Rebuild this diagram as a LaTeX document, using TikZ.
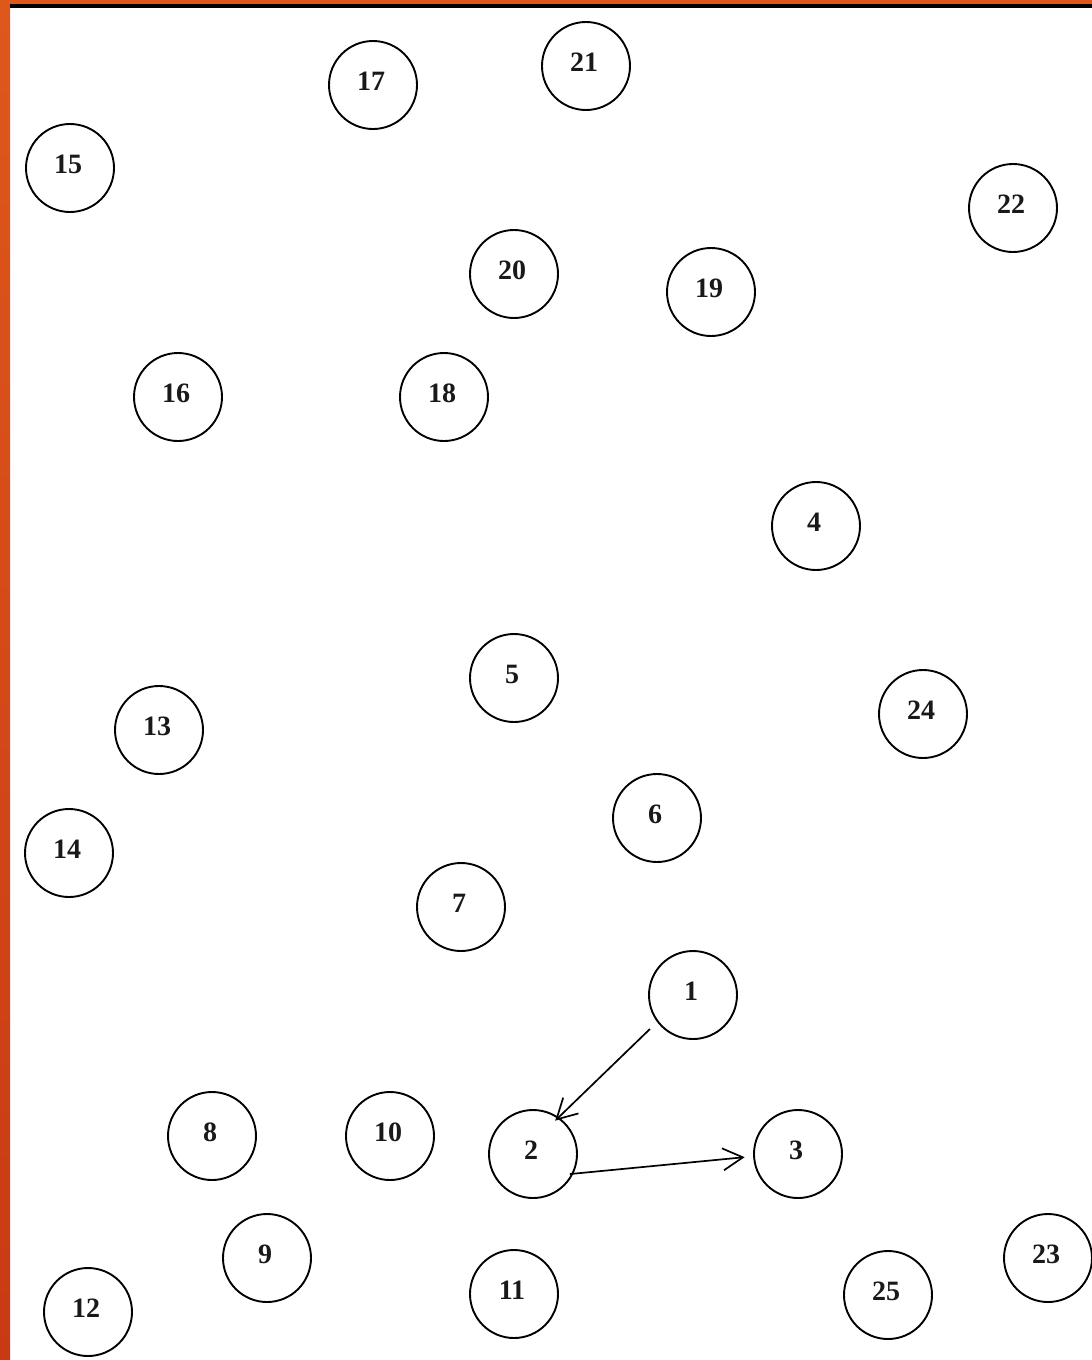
\documentclass[tikz,border=0pt]{standalone}
\usepackage{fontspec}
\setmainfont{Liberation Serif}
\usetikzlibrary{arrows.meta}
\definecolor{orangetop}{RGB}{222,88,28}
\definecolor{orangebot}{RGB}{200,58,20}
\begin{document}
\begin{tikzpicture}[x=1pt,y=-1pt,
  vertex/.style={circle,draw=black,line width=1.9pt,minimum size=88pt,inner sep=0pt,
    label={[font=\fontsize{28}{28}\selectfont\bfseries,text=black!90,xshift=-2pt,yshift=4pt]center:#1}},
  edge/.style={line width=1.7pt,-{Straight Barb[length=20pt,width=22pt,line width=1.7pt]}}]
\useasboundingbox (0,0) rectangle (1092,1360);
\fill[white] (0,0) rectangle (1092,1360);
% border
\shade[top color=orangetop,bottom color=orangebot] (0,0) rectangle (10,1360);
\fill[orangetop] (0,0) rectangle (1092,4);
\fill[black] (10,4) rectangle (1092,7.5);
% nodes
\node[vertex=17] (n17) at (373,85) {};
\node[vertex=21] (n21) at (586,66) {};
\node[vertex=15] (n15) at (70,168) {};
\node[vertex=22] (n22) at (1013,208) {};
\node[vertex=20] (n20) at (514,274) {};
\node[vertex=19] (n19) at (711,292) {};
\node[vertex=16] (n16) at (178,397) {};
\node[vertex=18] (n18) at (444,397) {};
\node[vertex=4] (n4) at (816,526) {};
\node[vertex=5] (n5) at (514,678) {};
\node[vertex=24] (n24) at (923,714) {};
\node[vertex=13] (n13) at (159,730) {};
\node[vertex=6] (n6) at (657,818) {};
\node[vertex=14] (n14) at (69,853) {};
\node[vertex=7] (n7) at (461,907) {};
\node[vertex=1] (n1) at (693,995) {};
\node[vertex=8] (n8) at (212,1136) {};
\node[vertex=10] (n10) at (390,1136) {};
\node[vertex=2] (n2) at (533,1154) {};
\node[vertex=3] (n3) at (798,1154) {};
\node[vertex=9] (n9) at (267,1258) {};
\node[vertex=23] (n23) at (1048,1258) {};
\node[vertex=11] (n11) at (514,1294) {};
\node[vertex=25] (n25) at (888,1295) {};
\node[vertex=12] (n12) at (88,1312) {};
% edges
\draw[edge,shorten <=10pt,shorten >=-5pt] (n1.217) -- (n2.55);
\draw[edge,shorten <=-3.5pt,shorten >=8.5pt] (n2.-26) -- (n3.183);
\end{tikzpicture}
\end{document}
